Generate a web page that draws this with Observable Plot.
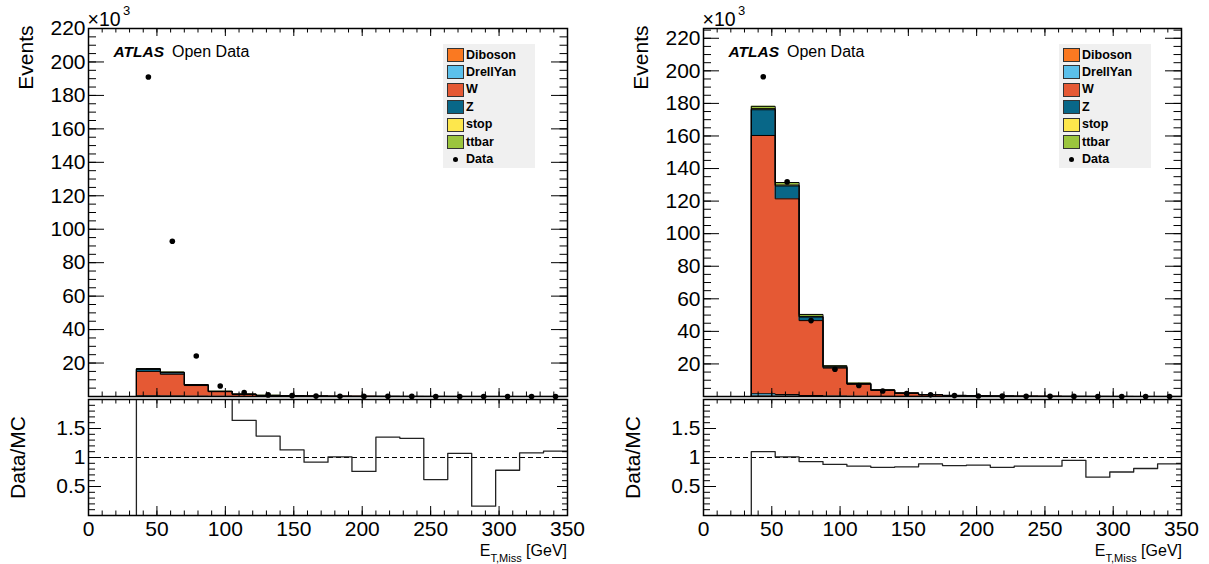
<!DOCTYPE html>
<html>
<head>
<meta charset="utf-8">
<script src="https://cdn.jsdelivr.net/npm/d3@7"></script>
<script src="https://cdn.jsdelivr.net/npm/@observablehq/plot@0.6"></script>
<style>
  body { margin: 0; background: #fff; }
  #root { position: relative; width: 1209px; height: 564px; overflow: hidden;
          font-family: "Liberation Sans", Arial, Helvetica, sans-serif; color: #000; }
  .pl { position: absolute; }
  .legend { position: absolute; background: #f0f0f0; width: 92px; height: 124px; }
  .sw { position: absolute; width: 15px; height: 12px; border: 1px solid #333; }
  .lt { position: absolute; font-weight: bold; font-size: 12.5px; line-height: 14px; white-space: nowrap; }
  .ld { position: absolute; width: 5px; height: 5px; border-radius: 50%; background: #000; }
  .xt { position: absolute; top: 542px; font-size: 16px; line-height: 18px; white-space: nowrap; }
  .xt .sub { font-size: 11px; position: relative; top: 6px; }
</style>
</head>
<body>
<div id="root"></div>
<script>
// ---------- data (events in units of 10^3) ----------
const binEdges = [35, 52.5, 70, 87.5, 105, 122.5, 140, 157.5, 175, 192.5, 210, 227.5, 245, 262.5, 280, 297.5, 315, 332.5, 350];
const processes = ["Diboson", "DrellYan", "W", "Z", "stop", "ttbar"];
const processColors = ["#fa7921", "#5bc0eb", "#e55934", "#086788", "#fde74c", "#9bc53d"];

// left panel
const leftDiboson  = [0.10, 0.10, 0.05, 0.03, 0.02, 0.010, 0.006, 0.004, 0.003, 0.002, 0.002, 0.001, 0.001, 0.001, 0.001, 0.001, 0.001, 0.001];
const leftDrellYan = [0.30, 0.20, 0.10, 0.05, 0.02, 0.010, 0.005, 0.003, 0.002, 0.001, 0.001, 0.001, 0.001, 0.000, 0.000, 0.000, 0.000, 0.000];
const leftW        = [14.6, 13.0, 6.40, 2.80, 1.25, 0.60, 0.38, 0.23, 0.12, 0.080, 0.060, 0.040, 0.030, 0.020, 0.017, 0.013, 0.010, 0.008];
const leftZ        = [1.30, 0.90, 0.35, 0.15, 0.06, 0.030, 0.020, 0.010, 0.010, 0.005, 0.004, 0.003, 0.002, 0.002, 0.001, 0.001, 0.001, 0.001];
const leftStop     = [0.10, 0.10, 0.06, 0.03, 0.02, 0.010, 0.006, 0.004, 0.003, 0.002, 0.001, 0.001, 0.001, 0.001, 0.000, 0.000, 0.000, 0.000];
const leftTtbar    = [0.30, 0.35, 0.20, 0.10, 0.06, 0.030, 0.020, 0.010, 0.006, 0.004, 0.003, 0.002, 0.001, 0.001, 0.001, 0.001, 0.000, 0.000];
const leftData     = [191.0, 92.8, 24.2, 6.3, 2.3, 0.95, 0.50, 0.24, 0.14, 0.07, 0.09, 0.06, 0.02, 0.025, 0.003, 0.011, 0.012, 0.010];
const leftRatio    = [11.5, 6.25, 3.45, 2.05, 1.64, 1.37, 1.13, 0.92, 1.01, 0.76, 1.35, 1.33, 0.62, 1.07, 0.16, 0.78, 1.08, 1.11];

// right panel
const rightDiboson  = [0.30, 0.30, 0.20, 0.10, 0.06, 0.04, 0.03, 0.02, 0.010, 0.010, 0.005, 0.004, 0.003, 0.002, 0.002, 0.001, 0.001, 0.001];
const rightDrellYan = [1.40, 0.90, 0.40, 0.15, 0.06, 0.03, 0.02, 0.01, 0.005, 0.003, 0.002, 0.001, 0.001, 0.001, 0.000, 0.000, 0.000, 0.000];
const rightW        = [158.6, 120.2, 46.0, 17.2, 7.40, 3.70, 1.95, 1.05, 0.60, 0.35, 0.22, 0.14, 0.090, 0.055, 0.040, 0.027, 0.017, 0.011];
const rightZ        = [15.8, 7.90, 2.20, 0.60, 0.25, 0.12, 0.06, 0.03, 0.020, 0.010, 0.006, 0.004, 0.003, 0.002, 0.001, 0.001, 0.001, 0.001];
const rightStop     = [0.70, 0.60, 0.40, 0.20, 0.10, 0.05, 0.03, 0.02, 0.010, 0.006, 0.004, 0.002, 0.001, 0.001, 0.001, 0.000, 0.000, 0.000];
const rightTtbar    = [1.40, 1.50, 1.20, 0.65, 0.35, 0.20, 0.12, 0.07, 0.040, 0.025, 0.015, 0.010, 0.006, 0.004, 0.003, 0.002, 0.001, 0.001];
const rightData     = [196.4, 131.8, 46.6, 16.7, 6.8, 3.4, 1.8, 1.0, 0.55, 0.33, 0.20, 0.13, 0.08, 0.055, 0.03, 0.022, 0.015, 0.010];
const rightRatio    = [1.10, 1.01, 0.93, 0.88, 0.85, 0.83, 0.84, 0.89, 0.86, 0.87, 0.83, 0.85, 0.85, 0.95, 0.66, 0.75, 0.81, 0.89];

// tick labels
const xTickLabels = [0, 50, 100, 150, 200, 250, 300, 350];
const mainYTickLabels = [20, 40, 60, 80, 100, 120, 140, 160, 180, 200, 220];
const ratioYTickLabels = [0.5, 1, 1.5];

// ---------- helpers ----------
const FONT = '"Liberation Sans", Arial, Helvetica, sans-serif';
const xMinor = d3.range(0, 351, 10);
const ratioYMinor = d3.range(0, 2.0001, 0.1);
const ratioYMajor = [0.5, 1, 1.5, 2];

function stackRows(series) {
  const n = binEdges.length - 1;
  const areas = [], outlines = [];
  const base = new Array(n).fill(0);
  series.forEach((vals, k) => {
    const proc = processes[k];
    const top = vals.map((v, i) => base[i] + v);
    for (let i = 0; i < n; i++) areas.push({proc, x: binEdges[i], y1: base[i], y2: top[i]});
    areas.push({proc, x: binEdges[n], y1: base[n - 1], y2: top[n - 1]});
    outlines.push({proc, x: binEdges[0], y: 0});
    for (let i = 0; i < n; i++) outlines.push({proc, x: binEdges[i], y: top[i]});
    outlines.push({proc, x: binEdges[n], y: top[n - 1]});
    outlines.push({proc, x: binEdges[n], y: 0});
    for (let i = 0; i < n; i++) base[i] = top[i];
  });
  return {areas, outlines};
}

function frameTicks(fw, fh, xMaj, xMin, yMajArr, yMinArr, lens) {
  const marks = [];
  // bottom & top x ticks
  marks.push(Plot.tickX(xTickLabels, {x: d => d, insetTop: fh - xMaj, stroke: "black", strokeWidth: 1}));
  marks.push(Plot.tickX(xMinor, {x: d => d, insetTop: fh - xMin, stroke: "black", strokeWidth: 1}));
  marks.push(Plot.tickX(xTickLabels, {x: d => d, insetBottom: fh - xMaj, stroke: "black", strokeWidth: 1}));
  marks.push(Plot.tickX(xMinor, {x: d => d, insetBottom: fh - xMin, stroke: "black", strokeWidth: 1}));
  // left & right y ticks
  marks.push(Plot.tickY(yMajArr, {y: d => d, insetRight: fw - lens.lMaj, stroke: "black", strokeWidth: 1}));
  marks.push(Plot.tickY(yMinArr, {y: d => d, insetRight: fw - lens.lMin, stroke: "black", strokeWidth: 1}));
  marks.push(Plot.tickY(yMajArr, {y: d => d, insetLeft: fw - lens.rMaj, stroke: "black", strokeWidth: 1}));
  marks.push(Plot.tickY(yMinArr, {y: d => d, insetLeft: fw - lens.rMin, stroke: "black", strokeWidth: 1}));
  return marks;
}

function mainPlot({width, marginLeft, marginRight, yMax, series, data}) {
  const height = 400, marginTop = 28, marginBottom = 4;
  const fw = width - marginLeft - marginRight, fh = height - marginTop - marginBottom;
  const {areas, outlines} = stackRows(series);
  const dots = data.map((v, i) => ({x: (binEdges[i] + binEdges[i + 1]) / 2, y: v}));
  const yMinor = d3.range(0, yMax, 5);
  return Plot.plot({
    width, height, marginLeft, marginRight, marginTop, marginBottom,
    style: {fontFamily: FONT, fontSize: "21px", background: "transparent", color: "black"},
    x: {domain: [0, 350], axis: null},
    y: {domain: [0, yMax]},
    color: {domain: processes, range: processColors},
    marks: [
      Plot.areaY(areas, {x: "x", y1: "y1", y2: "y2", z: "proc", fill: "proc", curve: "step-after"}),
      Plot.line(outlines, {x: "x", y: "y", z: "proc", curve: "step-after", stroke: "black", strokeWidth: 1}),
      Plot.dot(dots, {x: "x", y: "y", r: 2.8, fill: "black", stroke: "none"}),
      ...frameTicks(fw, fh, 8, 4.5, mainYTickLabels, yMinor, {lMaj: 16, lMin: 8, rMaj: 16, rMin: 7.5}),
      Plot.frame({stroke: "black", strokeWidth: 1.5}),
      Plot.axisY({ticks: mainYTickLabels, tickSize: 0, tickPadding: 3, tickFormat: d => String(d), label: null, fontSize: 21}),
      Plot.text(["ATLAS"], {text: d => d, frameAnchor: "top-left", dx: 25, dy: 28, lineAnchor: "bottom",
        textAnchor: "start", fontWeight: "bold", fontStyle: "italic", fontSize: 15.5}),
      Plot.text(["Open Data"], {text: d => d, frameAnchor: "top-left", dx: 83.5, dy: 28, lineAnchor: "bottom",
        textAnchor: "start", fontSize: 16}),
      Plot.text(["×10"], {text: d => d, frameAnchor: "top-left", dx: -1, dy: -3, lineAnchor: "bottom",
        textAnchor: "start", fontSize: 19.5}),
      Plot.text(["3"], {text: d => d, frameAnchor: "top-left", dx: 34.5, dy: -14, lineAnchor: "bottom",
        textAnchor: "start", fontSize: 13}),
      Plot.text(["Events"], {text: d => d, frameAnchor: "top-left", dx: -70, dy: -3, rotate: -90,
        textAnchor: "end", fontSize: 21})
    ]
  });
}

function ratioPlot({width, marginLeft, marginRight, ratio}) {
  const height = 167, marginTop = 2, marginBottom = 49;
  const fw = width - marginLeft - marginRight, fh = height - marginTop - marginBottom;
  const n = binEdges.length - 1;
  const pts = [{x: binEdges[0], y: 0}];
  for (let i = 0; i < n; i++) pts.push({x: binEdges[i], y: ratio[i]});
  pts.push({x: binEdges[n], y: ratio[n - 1]});
  return Plot.plot({
    width, height, marginLeft, marginRight, marginTop, marginBottom,
    style: {fontFamily: FONT, fontSize: "21px", background: "transparent", color: "black"},
    x: {domain: [0, 350]},
    y: {domain: [0, 2]},
    marks: [
      Plot.ruleY([1], {stroke: "black", strokeWidth: 1, strokeDasharray: "5,3"}),
      Plot.line(pts, {x: "x", y: "y", curve: "step-after", stroke: "#222", strokeWidth: 1.3, clip: true}),
      ...frameTicks(fw, fh, 9, 4.5, ratioYMajor, ratioYMinor, {lMaj: 13, lMin: 7, rMaj: 10, rMin: 5}),
      Plot.frame({stroke: "black", strokeWidth: 1.5}),
      Plot.axisX({ticks: xTickLabels, tickSize: 0, tickPadding: 6, tickFormat: d => String(d), label: null, fontSize: 21}),
      Plot.axisY({ticks: ratioYTickLabels, tickSize: 0, tickPadding: 3, tickFormat: d => String(d), label: null, fontSize: 21}),
      Plot.text(["Data/MC"], {text: d => d, frameAnchor: "left", dx: -70, rotate: -90,
        textAnchor: "middle", fontSize: 21})
    ]
  });
}

function place(el, left, top) {
  el.classList.add("pl");
  el.style.left = left + "px";
  el.style.top = top + "px";
  root.appendChild(el);
}

function legend(left, top) {
  const box = document.createElement("div");
  box.className = "legend";
  box.style.left = left + "px";
  box.style.top = top + "px";
  const step = 17.4;
  processes.forEach((p, k) => {
    const cy = 11 + k * step;
    const sw = document.createElement("div");
    sw.className = "sw";
    sw.style.left = "4px";
    sw.style.top = (cy - 7) + "px";
    sw.style.background = processColors[k];
    box.appendChild(sw);
    const t = document.createElement("div");
    t.className = "lt";
    t.style.left = "23px";
    t.style.top = (cy - 7.5) + "px";
    t.textContent = p;
    box.appendChild(t);
  });
  const cy = 11 + processes.length * step;
  const d = document.createElement("div");
  d.className = "ld";
  d.style.left = "10px";
  d.style.top = (cy - 2.5) + "px";
  box.appendChild(d);
  const t = document.createElement("div");
  t.className = "lt";
  t.style.left = "23px";
  t.style.top = (cy - 7.5) + "px";
  t.textContent = "Data";
  box.appendChild(t);
  root.appendChild(box);
}

function xTitle(rightPx) {
  const d = document.createElement("div");
  d.className = "xt";
  d.style.right = rightPx + "px";
  d.innerHTML = 'E<span class="sub">T,Miss</span> [GeV]';
  root.appendChild(d);
}

const root = document.getElementById("root");

place(mainPlot({width: 604, marginLeft: 88, marginRight: 37, yMax: 220,
  series: [leftDiboson, leftDrellYan, leftW, leftZ, leftStop, leftTtbar], data: leftData}), 0, 0);
place(mainPlot({width: 605, marginLeft: 99, marginRight: 28, yMax: 226,
  series: [rightDiboson, rightDrellYan, rightW, rightZ, rightStop, rightTtbar], data: rightData}), 604, 0);
place(ratioPlot({width: 604, marginLeft: 88, marginRight: 37, ratio: leftRatio}), 0, 397);
place(ratioPlot({width: 605, marginLeft: 99, marginRight: 28, ratio: rightRatio}), 604, 397);

legend(443, 44);
legend(1059, 44);
xTitle(642);
xTitle(27);
</script>
</body>
</html>
